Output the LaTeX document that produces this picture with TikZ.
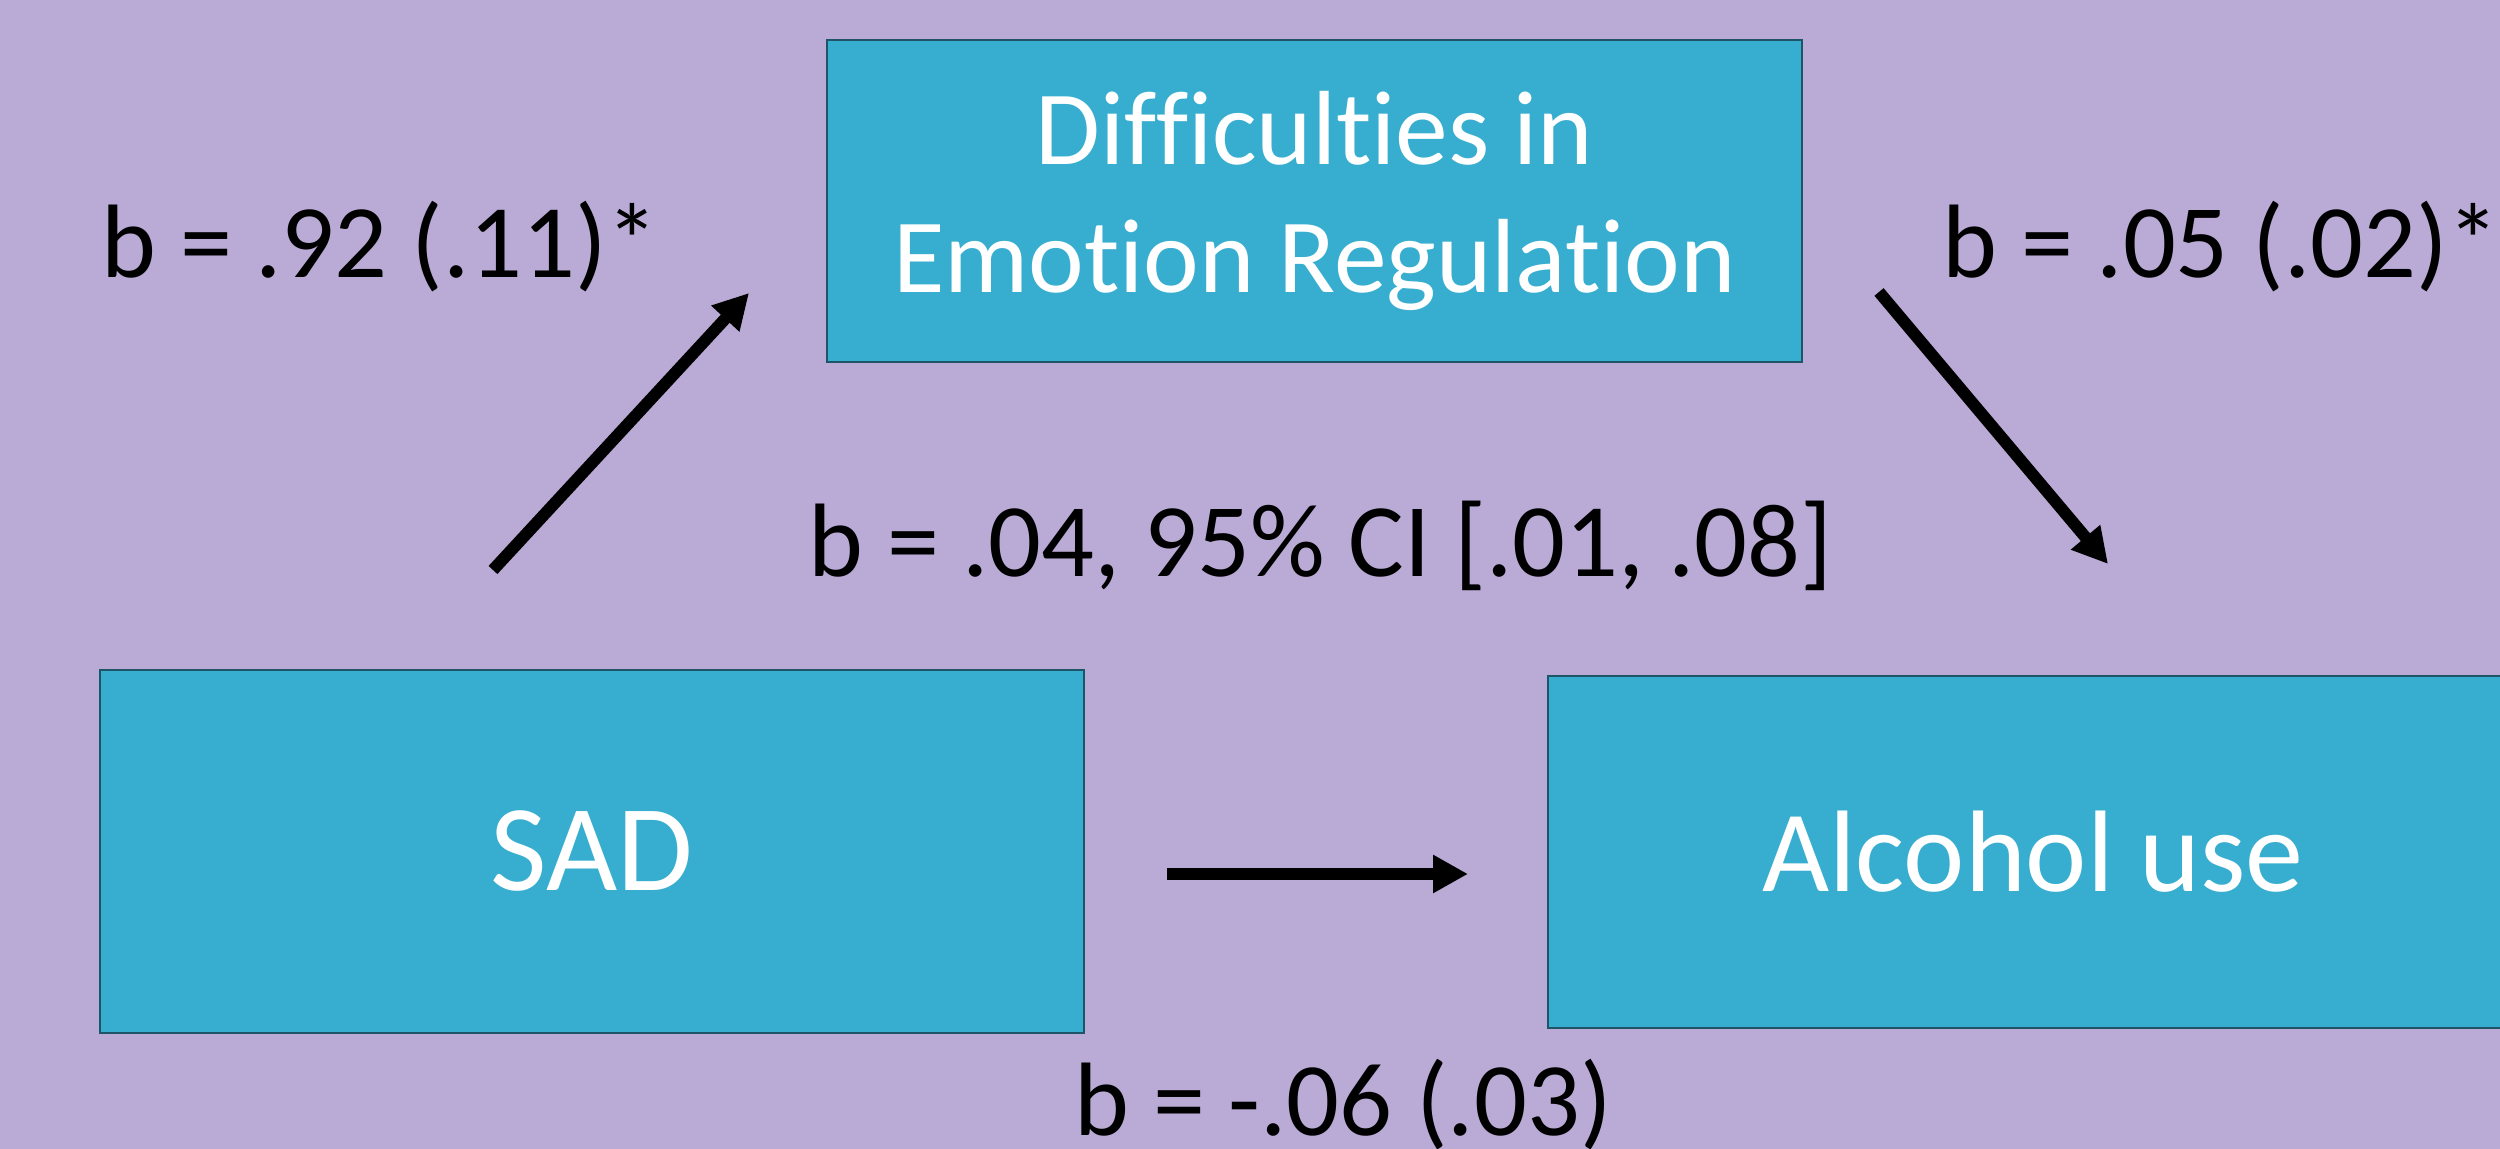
\documentclass[tikz,border=0pt]{standalone}
\usepackage{fontspec}
\setmainfont{Carlito}[Ligatures=NoCommon]
\usetikzlibrary{arrows.meta}
\definecolor{hintergrund}{HTML}{BAAAD6}
\definecolor{kasten}{HTML}{37AECF}
\definecolor{rand}{HTML}{1F5466}
\begin{document}
\begin{tikzpicture}[
	box/.style={draw=rand, line width=0.8pt, fill=kasten, text=white, align=center, inner sep=0pt},
	pfeil/.style={line width=3.4pt, -{Triangle[length=0.35cm,width=0.36cm]}},
	wert/.style={anchor=base west, inner sep=0pt, font=\fontsize{29.7}{36}\selectfont}
	]
	% Hintergrund
	\fill [hintergrund] (0,0) rectangle (25,11.49);
	\clip (0,0) rectangle (25,11.49);
	% Kaesten
	\node [box, minimum width=9.75cm, minimum height=3.22cm, font=\fontsize{30}{36.4}\selectfont] (der) at (13.145,9.48) {Difficulties in\\Emotion Regulation};
	\node [box, minimum width=9.84cm, minimum height=3.63cm, font=\fontsize{35}{42}\selectfont] (sad) at (5.92,2.975) {SAD};
	\node [box, minimum width=9.70cm, minimum height=3.52cm, font=\fontsize{33}{40}\selectfont] (alc) at (20.33,2.97) {Alcohol use};
	% Pfeile
	\coordinate (a1) at (4.93,5.79);
	\coordinate (a2) at (7.49,8.56);
	\coordinate (b1) at (18.79,8.57);
	\coordinate (b2) at (21.08,5.85);
	\coordinate (c1) at (11.67,2.75);
	\coordinate (c2) at (14.68,2.75);
	\draw [pfeil] (a1) -- (a2);
	\draw [pfeil] (b1) -- (b2);
	\draw [pfeil] (c1) -- (c2);
	% Koeffizienten
	\node [wert] (ba) at (1.01,8.71) {b = .92 (.11)*};
	\node [wert] (bb) at (19.42,8.71) {b = .05 (.02)*};
	\node [wert] (ind) at (8.08,5.72) {b = .04, 95\% CI [.01, .08]};
	\node [wert] (dir) at (10.74,0.13) {b = -.06 (.03)};
\end{tikzpicture}
\end{document}
